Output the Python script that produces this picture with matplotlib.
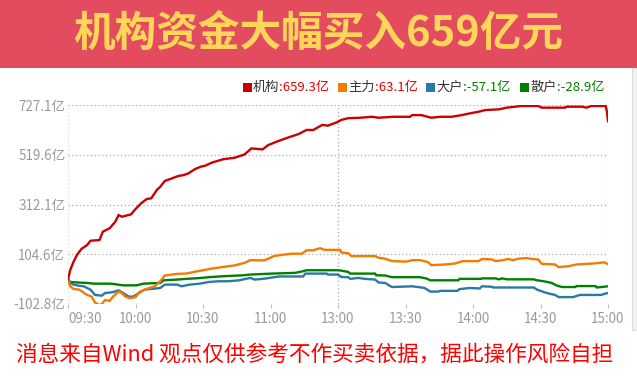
import matplotlib
matplotlib.use("Agg")
import matplotlib.pyplot as plt
from matplotlib.patches import Rectangle

plt.rcParams['font.family'] = ['Noto Sans CJK SC', 'DejaVu Sans']

title = "机构资金大幅买入659亿元"
footer = "消息来自Wind 观点仅供参考不作买卖依据，据此操作风险自担"

series_names = ["机构", "主力", "大户", "散户"]
final_values = [659.3, 63.1, -57.1, -28.9]
series_colors = ["#CC0000", "#F57A00", "#2A78A6", "#008000"]

y_ticks = [727.1, 519.6, 312.1, 104.6, -102.8]
x_ticks = [0, 30, 60, 90, 120, 150, 180, 210, 240]
x_labels = ["09:30", "10:00", "10:30", "11:00", "13:00", "13:30", "14:00", "14:30", "15:00"]

# minutes since 09:30 (trading time), values in 亿
jg_t = [0, 1, 2.5, 4, 6, 8.5, 10, 14, 15.5, 18.5, 21, 22.5, 24, 28, 30, 32.5, 35, 37, 39.5, 41, 43, 45, 49,
        51.5, 53.5, 56.5, 59, 61, 64, 69, 74, 78.5, 81.5, 86.5, 89, 93.5, 98, 102.5, 106, 109, 113, 115.5,
        119.5, 121.5, 124.5, 130, 135, 138, 144.5, 152, 153, 157, 161.5, 165.5, 170.5, 175, 178.5, 182.5,
        185.5, 191.5, 195, 201.5, 209, 210.5, 221, 221.5, 228.5, 230.5, 232.5, 239, 239.5, 240]
jg_v = [0, 39, 74, 102, 127, 143, 161, 164, 199, 213, 240, 268, 261, 271, 293, 317, 335, 338, 373, 386, 410,
        417, 431, 435, 442, 460, 470, 474, 487, 501, 507, 521, 546, 542, 560, 577, 592, 606, 623, 623, 644,
        641, 655, 665, 672, 674, 678, 674, 678, 678, 685, 685, 674, 678, 678, 685, 692, 699, 706, 709, 716,
        723, 723, 716, 716, 720, 720, 716, 723, 723, 700, 659.3]

zl_t = [0, 1, 2.5, 5, 8.5, 10.5, 12, 14, 15, 16.5, 18.5, 20, 22.5, 24, 25.5, 27.5, 30, 32, 35, 38.5, 41, 43,
        48.5, 52.5, 57, 59.5, 64, 68.5, 74, 78.5, 81, 87, 89, 91.5, 95, 99.5, 104, 106, 109, 112, 114, 121,
        121.5, 124.5, 126, 136.5, 138, 141, 144, 150.5, 153, 156.5, 160, 161.5, 167.5, 172, 175.5, 182.5,
        184, 188.5, 190, 193.5, 195.5, 198, 200, 204, 206, 209, 210.5, 216.5, 218, 222.5, 226, 233.5,
        238.5, 240]
zl_v = [0, -29, -40, -43, -65, -72, -97, -107, -103, -86, -90, -72, -51, -58, -72, -79, -74, -51, -40, -29,
        -8, 16, 23, 24, 33, 37, 45, 51, 58, 69, 80, 79, 86, 97, 102, 107, 107, 121, 121, 130, 123, 123,
        112, 109, 97, 97, 90, 86, 76, 74, 80, 80, 72, 59, 62, 66, 76, 76, 85, 83, 76, 80, 85, 80, 86, 89,
        85, 83, 65, 62, 51, 55, 62, 66, 71, 63.1]

dh_t = [0, 1, 2.5, 5, 7, 10, 12, 15, 16.5, 18.5, 20, 22.5, 24.5, 27, 29, 31.5, 34, 38, 41, 43, 48.5, 50.5,
        54, 58.5, 62.5, 67, 71, 76, 81, 83, 87.5, 91.5, 94, 104.5, 105.5, 115, 115.5, 120, 121.5, 124.5,
        125.5, 129, 132, 136.5, 138, 141, 143, 144, 153, 155.5, 158.5, 161, 164.5, 165.5, 173, 174, 178.5,
        183, 184, 188.5, 189, 207, 208.5, 211.5, 214, 216.5, 218, 224.5, 227.5, 237, 238.5, 240]
dh_v = [0, -15, -22, -27, -29, -43, -65, -68, -57, -55, -53, -46, -57, -72, -72, -57, -43, -39, -36, -22,
        -22, -29, -22, -18, -11, -8, -8, -4, 6, -1, 3, 9, 12, 12, 24, 24, 20, 20, 10, 9, 2, 6, 2, -1, -13,
        -15, -27, -32, -29, -32, -36, -51, -51, -48, -48, -41, -36, -38, -29, -31, -34, -34, -43, -53, -60,
        -65, -74, -74, -65, -65, -60, -57.1]

sh_t = [0, 1, 4, 8.5, 11.5, 18.5, 20, 24.5, 30.5, 33.5, 41, 42.5, 48.5, 52.5, 58, 62.5, 69, 78, 81, 90.5,
        101, 104.5, 106, 120, 121, 124.5, 125.5, 136.5, 137, 141, 144, 156.5, 159.5, 161, 173.5, 174,
        183.5, 184, 190, 191.5, 193, 195, 207, 208.5, 211.5, 215, 217, 219.5, 225.5, 226, 234.5, 235, 240]
sh_v = [0, -11, -13, -15, -18, -18, -19, -25, -25, -18, -15, -4, -1, 2, 5, 9, 13, 17, 20, 24, 27, 34, 38,
        38, 37, 31, 24, 24, 17, 16, 9, 9, 3, -4, -4, 2, 2, 4, 4, 0, 4, 0, 0, -4, -8, -15, -25, -32, -32,
        -28, -28, -34, -28.9]

W, H = 637, 381
fig = plt.figure(figsize=(W / 100, H / 100), dpi=100)
fig.patch.set_facecolor("white")

def fx(px):
    return px / W

def fy(py):
    return 1 - py / H

# Title banner
fig.patches.append(Rectangle((0, fy(68)), 1, 68 / H, transform=fig.transFigure,
                             facecolor="#E34C5F", edgecolor="none", zorder=0))
fig.text(0.5, fy(34), title, ha="center", va="center", color="#FFD65A",
         fontsize=30, fontweight="bold")

# right scrollbar
fig.patches.append(Rectangle((fx(632), fy(330)), 5 / W, (330 - 68) / H, transform=fig.transFigure,
                             facecolor="#F2F2F2", edgecolor="#DDDDDD", linewidth=0.8, zorder=0))

ax = fig.add_axes([fx(68), fy(304), fx(608) - fx(68), (304 - 105) / H])
ax.set_facecolor("white")
data = [(jg_t, jg_v), (zl_t, zl_v), (dh_t, dh_v), (sh_t, sh_v)]
for i in [3, 2, 1, 0]:
    t, v = data[i]
    ax.plot(t, v, color=series_colors[i], lw=1.7, solid_joinstyle="miter", zorder=3 + (3 - i))

ax.set_xlim(0, 240)
ax.set_ylim(-102.8, 727.1)
for s in ax.spines.values():
    s.set_visible(False)
ax.set_yticks(y_ticks)
ax.set_yticklabels([f"{v}亿" for v in y_ticks], fontsize=9.7, color="#9A9A9A")
ax.set_xticks(x_ticks)
ax.set_xticklabels(x_labels, fontsize=9.7, color="#9A9A9A")
ax.tick_params(axis="y", length=0, pad=2)
ax.tick_params(axis="x", length=3, color="#BBBBBB", pad=3)
xl = ax.get_xticklabels()
xl[0].set_ha("left")
for yv in y_ticks:
    ax.axhline(yv, color="#AAAAAA", lw=0.9, ls=(0, (1, 2)), zorder=1)
ax.axvline(120, color="#AAAAAA", lw=0.9, ls=(0, (1, 2)), zorder=1)
ax.axvline(0, color="#DDDDDD", lw=0.9, ls=(0, (1, 2)), zorder=1)
ax.axvline(240, color="#DDDDDD", lw=0.9, ls=(0, (1, 2)), zorder=1)

# Legend (top right)
fig.canvas.draw()
r = fig.canvas.get_renderer()
starts = [243, 338, 426, 520]
ly = 87
for i, name in enumerate(series_names):
    x0 = starts[i]
    fig.patches.append(Rectangle((fx(x0), fy(ly + 4.5)), 8.5 / W, 8.5 / H, transform=fig.transFigure,
                                 facecolor=series_colors[i], edgecolor="none"))
    t1 = fig.text(fx(x0 + 10), fy(ly), name, ha="left", va="center", fontsize=9.5, color="#333333")
    bb = t1.get_window_extent(r)
    vcol = "#E60000" if final_values[i] >= 0 else "#008000"
    fig.text(bb.x1 / W, fy(ly), f":{final_values[i]}亿", ha="left", va="center", fontsize=9.5, color=vcol)

fig.text(fx(315), fy(355), footer, ha="center", va="center", color="#FF0000", fontsize=15.6)

fig.savefig("out.png", dpi=100)
